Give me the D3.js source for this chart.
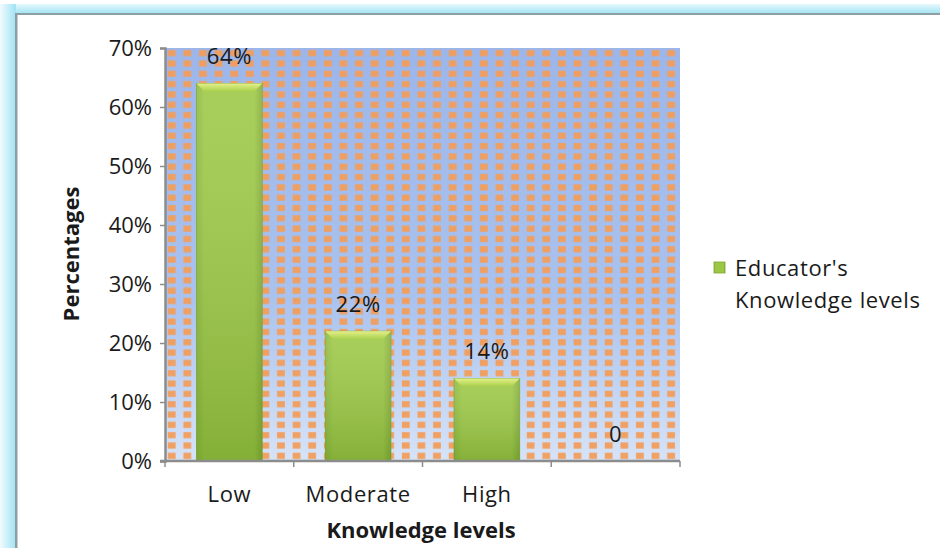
<!DOCTYPE html>
<html>
<head>
<meta charset="utf-8">
<script src="https://cdn.jsdelivr.net/npm/d3@7"></script>
<style>
  html, body { margin: 0; padding: 0; background: #ffffff; }
  svg { display: block; }
  text { font-family: "Open Sans", Lato, sans-serif; fill: #1a1a1a; }
</style>
</head>
<body>
<svg id="chart" width="940" height="548"></svg>
<script>
// Knowledge levels of educators, as percentages
const categories = ["Low", "Moderate", "High", ""];
const values = [64, 22, 14, 0];
const valueLabels = ["64%", "22%", "14%", "0"];
const yTicks = [0, 10, 20, 30, 40, 50, 60, 70];
const seriesName = ["Educator's", "Knowledge levels"];
const xTitle = "Knowledge levels";
const yTitle = "Percentages";

const FONT = "'Open Sans', Lato, sans-serif";
const FS = 22;
const LS = 0.6;

const svg = d3.select("#chart");
const W = 940, H = 548;
const plot = { left: 165, right: 680, top: 48, bottom: 461 };

const defs = svg.append("defs");

// Frame band gradients
const gTop = defs.append("linearGradient").attr("id", "bandTop").attr("x1", 0).attr("y1", 0).attr("x2", 0).attr("y2", 1);
gTop.append("stop").attr("offset", "0%").attr("stop-color", "#e6f8fd");
gTop.append("stop").attr("offset", "100%").attr("stop-color", "#9fe3f3");
const gLeft = defs.append("linearGradient").attr("id", "bandLeft").attr("x1", 0).attr("y1", 0).attr("x2", 1).attr("y2", 0);
gLeft.append("stop").attr("offset", "0%").attr("stop-color", "#f2fbfe");
gLeft.append("stop").attr("offset", "100%").attr("stop-color", "#9fe3f3");

// Plot background: blue wash with an orange dotted grid
const bg = defs.append("linearGradient").attr("id", "plotBg").attr("x1", 0).attr("y1", 0).attr("x2", 0).attr("y2", 1);
bg.append("stop").attr("offset", "0%").attr("stop-color", "#9cb6ea");
bg.append("stop").attr("offset", "60%").attr("stop-color", "#a9c2ee");
bg.append("stop").attr("offset", "100%").attr("stop-color", "#d6e3f7");

const pw = (plot.right - plot.left) / 33;
const ph = (plot.bottom - plot.top) / 40;
const pat = defs.append("pattern").attr("id", "dots")
  .attr("patternUnits", "userSpaceOnUse")
  .attr("x", plot.left).attr("y", plot.top)
  .attr("width", pw).attr("height", ph);
pat.append("rect").attr("x", pw * 0.18).attr("y", ph * 0.2)
  .attr("width", pw * 0.5).attr("height", ph * 0.6)
  .attr("fill", "#f29d5a").attr("opacity", 0.95);

// Bar fill: green with a lighter bevelled top
const barG = defs.append("linearGradient").attr("id", "barFill").attr("x1", 0).attr("y1", 0).attr("x2", 1).attr("y2", 0);
barG.append("stop").attr("offset", "0%").attr("stop-color", "#8cb83c");
barG.append("stop").attr("offset", "12%").attr("stop-color", "#9cc744");
barG.append("stop").attr("offset", "88%").attr("stop-color", "#9cc744");
barG.append("stop").attr("offset", "100%").attr("stop-color", "#84ad38");
const barV = defs.append("linearGradient").attr("id", "barShade").attr("x1", 0).attr("y1", 0).attr("x2", 0).attr("y2", 1);
barV.append("stop").attr("offset", "0%").attr("stop-color", "#ffffff").attr("stop-opacity", 0.12);
barV.append("stop").attr("offset", "100%").attr("stop-color", "#3e6a10").attr("stop-opacity", 0.25);
const barTop = defs.append("linearGradient").attr("id", "barTop").attr("x1", 0).attr("y1", 0).attr("x2", 0).attr("y2", 1);
barTop.append("stop").attr("offset", "0%").attr("stop-color", "#e4f08a");
barTop.append("stop").attr("offset", "100%").attr("stop-color", "#a9d04c");

// Outer frame
svg.append("rect").attr("x", 0).attr("y", 4).attr("width", W).attr("height", 10).attr("fill", "url(#bandTop)");
svg.append("rect").attr("x", 0).attr("y", 4).attr("width", 16).attr("height", H).attr("fill", "url(#bandLeft)");
svg.append("rect").attr("x", 16).attr("y", 13).attr("width", W).attr("height", 2).attr("fill", "#8f9ea3");
svg.append("rect").attr("x", 15).attr("y", 13).attr("width", 2.5).attr("height", H).attr("fill", "#8f9ea3");

// Scales
const x = d3.scaleBand().domain(d3.range(categories.length)).range([plot.left, plot.right]).paddingInner(0.49).paddingOuter(0.245);
const y = d3.scaleLinear().domain([0, 70]).range([plot.bottom, plot.top]);

// Plot area
svg.append("rect").attr("x", plot.left).attr("y", plot.top)
  .attr("width", plot.right - plot.left).attr("height", plot.bottom - plot.top)
  .attr("fill", "url(#plotBg)");
svg.append("rect").attr("x", plot.left).attr("y", plot.top)
  .attr("width", plot.right - plot.left).attr("height", plot.bottom - plot.top)
  .attr("fill", "url(#dots)");

// Bars
const bars = svg.append("g").selectAll("g").data(values).join("g")
  .attr("transform", (d, i) => `translate(${x(i)},0)`);
bars.append("rect")
  .attr("x", 0).attr("y", d => y(d))
  .attr("width", x.bandwidth()).attr("height", d => y(0) - y(d))
  .attr("fill", "url(#barFill)")
  .attr("stroke", d => d > 0 ? "#7fa536" : "none").attr("stroke-width", 0.8);
bars.append("rect")
  .attr("x", 0).attr("y", d => y(d))
  .attr("width", x.bandwidth()).attr("height", d => y(0) - y(d))
  .attr("fill", "url(#barShade)");
bars.filter(d => d > 0).append("path")
  .attr("d", d => {
    const w = x.bandwidth(), t = y(d), b = 8;
    return `M0,${t} L${w},${t} L${w - b},${t + b} L${b},${t + b} Z`;
  })
  .attr("fill", "url(#barTop)");

// Value labels
svg.append("g").selectAll("text").data(values).join("text")
  .attr("x", (d, i) => x(i) + x.bandwidth() / 2)
  .attr("y", d => y(d) - 19)
  .attr("text-anchor", "middle")
  .attr("font-size", FS).attr("letter-spacing", LS)
  .text((d, i) => valueLabels[i]);

// Y axis
const yAxis = svg.append("g").attr("transform", `translate(${plot.left},0)`)
  .call(d3.axisLeft(y).tickValues(yTicks).tickFormat(d => d + "%").tickSize(5).tickPadding(8));
yAxis.select(".domain").attr("stroke", "#8c8c8c").attr("stroke-width", 2.5);
yAxis.selectAll(".tick line").attr("stroke", "#8c8c8c").attr("stroke-width", 1.5);
yAxis.selectAll(".tick text").attr("font-size", FS).attr("font-family", FONT).attr("fill", "#1a1a1a");

// X axis with ticks at band edges
const xAxisG = svg.append("g");
xAxisG.append("line").attr("x1", plot.left - 5).attr("x2", plot.right)
  .attr("y1", plot.bottom).attr("y2", plot.bottom)
  .attr("stroke", "#8c8c8c").attr("stroke-width", 2.5);
const edges = d3.range(categories.length + 1).map(i => plot.left + i * (plot.right - plot.left) / categories.length);
xAxisG.selectAll("line.tk").data(edges).join("line").attr("class", "tk")
  .attr("x1", d => d).attr("x2", d => d)
  .attr("y1", plot.bottom).attr("y2", plot.bottom + 6)
  .attr("stroke", "#8c8c8c").attr("stroke-width", 1.5);
xAxisG.selectAll("text").data(categories).join("text")
  .attr("x", (d, i) => x(i) + x.bandwidth() / 2)
  .attr("y", 502)
  .attr("text-anchor", "middle")
  .attr("font-size", FS).attr("letter-spacing", LS)
  .text(d => d);

// Axis titles
svg.append("text").attr("x", 421).attr("y", 538).attr("text-anchor", "middle")
  .attr("font-size", FS).attr("font-weight", "bold").text(xTitle);
svg.append("text").attr("transform", "translate(79,254) rotate(-90)").attr("text-anchor", "middle")
  .attr("font-size", FS).attr("font-weight", "bold").text(yTitle);

// Legend
const lg = svg.append("g");
lg.append("rect").attr("x", 714).attr("y", 262).attr("width", 11).attr("height", 11)
  .attr("fill", "url(#barFill)").attr("stroke", "#7fa536").attr("stroke-width", 0.8);
lg.selectAll("text").data(seriesName).join("text")
  .attr("x", 735).attr("y", (d, i) => 276 + i * 32)
  .attr("font-size", FS).attr("letter-spacing", LS)
  .text(d => d);
</script>
</body>
</html>
